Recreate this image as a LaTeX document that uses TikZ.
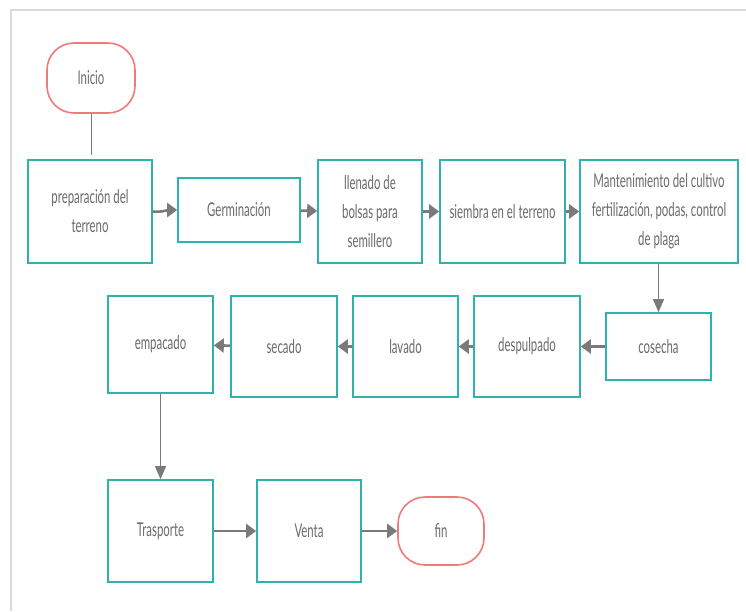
\documentclass[tikz,border=0pt]{standalone}
\usepackage{fontspec}
\setmainfont{Lato}[FakeStretch=0.6]
\usepackage{tikz}
\usetikzlibrary{arrows.meta,positioning}

\definecolor{tealline}{HTML}{2DB3AE}
\definecolor{redline}{HTML}{F07A7A}
\definecolor{arrowgray}{HTML}{7A7A7A}
\definecolor{textgray}{HTML}{6A6A6A}
\definecolor{framegray}{HTML}{DADADA}

\tikzset{
  stepbox/.style={draw=tealline,line width=1.6pt,fill=white,inner sep=0pt,
    align=center,text=textgray,font=\fontsize{19}{29}\selectfont},
  endbox/.style={draw=redline,line width=1.6pt,fill=white,inner sep=0pt,
    rounded corners=27pt,text=textgray,font=\fontsize{19}{29}\selectfont},
  flow/.style={draw=arrowgray,line width=2.6pt,-{Triangle[length=10pt,width=14pt]}},
  drop/.style={draw=arrowgray,line width=1pt,-{Triangle[length=13pt,width=11pt]}}
}

\begin{document}
\begin{tikzpicture}[x=1pt,y=-1pt]
        \useasboundingbox (0,0) rectangle (746,611);
        % marco
        \draw[framegray,line width=2pt] (11,611) -- (11,10) -- (746,10);

        \node [endbox,minimum width=88pt,minimum height=70pt] (inicio) at (91,78) {Inicio};
        \coordinate (inicioend) at (91,155);

        % primera fila
        \node [stepbox,minimum width=124pt,minimum height=103pt] (prep) at (90,211.5) {preparación del\\terreno};
        \node [stepbox,minimum width=122pt,minimum height=64pt] (germ) at (239,210) {Germinación};
        \node [stepbox,minimum width=104pt,minimum height=103pt] (llen) at (370,211.5) {llenado de\\bolsas para\\semillero};
        \node [stepbox,minimum width=125pt,minimum height=103pt] (siem) at (502.5,211.5) {siembra en el terreno};
        \node [stepbox,minimum width=158pt,minimum height=103pt] (mant) at (659,211.5) {Mantenimiento del cultivo\\fertilización, podas, control\\de plaga};

        % segunda fila
        \node [stepbox,minimum width=105pt,minimum height=67pt] (cose) at (658.5,346.5) {cosecha};
        \node [stepbox,minimum width=106pt,minimum height=101pt] (desp) at (527,346.5) {despulpado};
        \node [stepbox,minimum width=105pt,minimum height=101pt] (lava) at (405.5,346.5) {lavado};
        \node [stepbox,minimum width=106pt,minimum height=101pt] (seca) at (284,346.5) {secado};
        \node [stepbox,minimum width=105pt,minimum height=97pt] (empa) at (160.5,344.5) {empacado};

        % tercera fila
        \node [stepbox,minimum width=105pt,minimum height=102pt] (tras) at (160.5,531) {Trasporte};
        \node [stepbox,minimum width=104pt,minimum height=102pt] (vent) at (309,531) {Venta};
        \node [endbox,minimum width=86pt,minimum height=68pt] (fin) at (441,531) {fin};

        \draw[arrowgray,line width=1pt] (inicio) -- (inicioend);
        \draw[flow] (prep.east) to[out=-5,in=180] (germ.west);
        \draw[flow] (germ) -- (llen);
        \draw[flow] (llen) -- (siem);
        \draw[flow] (siem) -- (mant);
        \draw[drop] (mant.south -| cose.north) -- (cose.north);
        \draw[flow] (cose) -- (desp);
        \draw[flow] (desp) -- (lava);
        \draw[flow] (lava) -- (seca);
        \draw[flow] (seca) -- (empa);
        \draw[drop] (empa) -- (tras);
        \draw[flow] (tras) -- (vent);
        \draw[flow] (vent) -- (fin);
    \end{tikzpicture}
\end{document}
